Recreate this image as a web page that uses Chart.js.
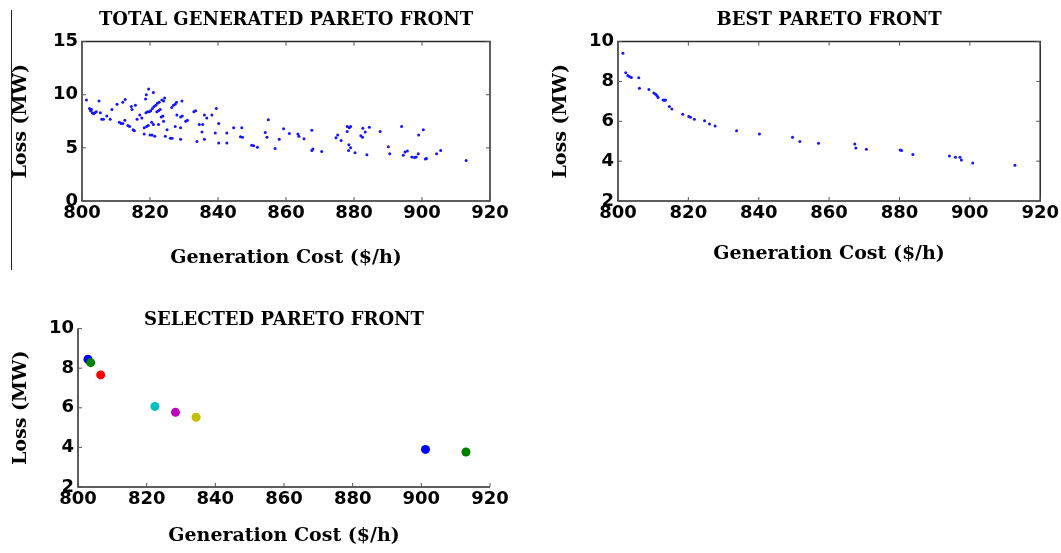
<!DOCTYPE html>
<html lang="en">
<head>
    <meta charset="UTF-8">
    <title>Pareto fronts</title>
    <script src="https://cdn.jsdelivr.net/npm/chart.js"></script>
    <style>
        body { margin: 0; background: #fff; width: 1061px; height: 553px; position: relative; overflow: hidden; }
        canvas { position: absolute; }
        #c1 { left: 0; top: 0; }
        #c2 { left: 540px; top: 0; }
        #c3 { left: 0; top: 297px; }
        #sideline { position: absolute; left: 11px; top: 10px; width: 1px; height: 260px; background: #222; }
    </style>
</head>
<body>
    <div id="sideline"></div>
    <canvas id="c1" width="540" height="280"></canvas>
    <canvas id="c2" width="521" height="280"></canvas>
    <canvas id="c3" width="540" height="256"></canvas>
<script>
    // total generated front
    var totalCost = [801.3, 802.2, 802.5, 802.8, 803.0, 803.4, 803.8, 804.2, 805.0, 805.4, 805.8, 806.3, 807.3, 808.3, 808.8,
        810.3, 811.0, 811.5, 812.0, 812.0, 812.6, 812.7, 813.5, 814.0, 814.5, 814.7, 815.0, 815.4, 815.7, 816.2, 817.0,
        817.6, 818.3, 818.3, 818.7, 818.9, 819.6, 818.8, 819.3, 819.8, 820.2, 820.7, 821.2, 821.7, 822.2, 822.7, 821.0,
        819.0, 819.5, 820.0, 820.6, 821.4, 820.5, 821.0, 822.0, 822.5, 823.0, 823.5, 824.0, 824.3, 823.3, 823.8, 822.5,
        824.0, 824.5, 825.0, 826.4, 826.9, 827.4, 827.8, 826.0, 826.5, 827.4, 827.9, 829.4, 829.0, 829.5, 829.0, 829.0,
        830.5, 831.0, 832.9, 833.4, 833.8, 834.5, 835.5, 835.3, 836.0, 836.0, 836.7, 838.2, 839.5, 839.2, 840.2, 840.2,
        842.6, 842.6, 844.6, 846.6, 847.2, 847.0, 849.9, 850.5, 851.6, 853.9, 854.4, 854.8, 856.8, 858.0, 859.3, 861.0,
        863.5, 863.8, 865.3, 867.6, 867.6, 867.9, 870.5, 874.7, 875.2, 876.2, 878.0, 878.6, 879.0, 878.0, 878.5, 879.0,
        878.4, 880.3, 882.0, 882.5, 882.6, 883.3, 883.8, 884.5, 887.7, 890.1, 890.5, 894.0, 894.5, 895.0, 895.7, 897.0,
        897.8, 898.3, 898.9, 899.0, 900.4, 901.0, 901.3, 904.3, 905.5, 913.0];
    var totalLoss = [9.5, 8.7, 8.5, 8.6, 8.3, 8.2, 8.3, 8.4, 9.4, 8.3, 7.7, 7.7, 8.0, 7.7, 8.6,
        9.1, 7.4, 7.3, 7.3, 9.3, 7.6, 9.55, 7.1, 7.0, 8.9, 8.6, 6.7, 6.6, 9.0, 7.7, 8.1,
        7.8, 6.9, 6.3, 9.6, 10.0, 10.55, 8.3, 8.4, 8.4, 8.5, 8.7, 8.9, 9.0, 9.2, 9.3, 10.2,
        7.0, 7.1, 6.2, 6.2, 6.1, 7.4, 7.2, 8.4, 8.5, 8.6, 9.5, 9.4, 9.7, 7.9, 8.0, 7.2,
        7.5, 6.1, 6.7, 8.8, 9.0, 9.1, 9.3, 5.9, 5.9, 7.0, 8.1, 9.4, 7.9, 8.0, 6.9, 5.8,
        7.5, 7.6, 8.4, 8.5, 5.6, 7.2, 7.2, 6.5, 8.1, 5.8, 7.8, 8.1, 8.7, 6.4, 5.45, 7.3,
        6.4, 5.45, 6.9, 6.05, 6.0, 6.9, 5.25, 5.2, 5.05, 6.45, 6.0, 7.65, 4.95, 5.8, 6.8, 6.35,
        6.3, 6.1, 5.85, 6.65, 4.75, 4.9, 4.65, 5.95, 6.2, 5.7, 7.0, 6.9, 7.0, 6.55, 5.3, 5.0,
        4.75, 4.55, 6.15, 6.0, 6.85, 6.5, 4.35, 6.95, 6.55, 5.1, 4.45, 7.0, 4.3, 4.6, 4.7, 4.15,
        4.1, 4.15, 4.45, 6.2, 6.7, 3.95, 4.0, 4.45, 4.75, 3.8];

    // best front
    var bestCost = [801.4, 802.2, 802.8, 803.3, 803.8, 805.9, 806.1, 808.8, 810.2, 810.7, 811.1, 811.4, 812.8, 813.2,
        813.5, 814.6, 815.3, 818.4, 820.1, 820.6, 821.7, 824.6, 826.0, 827.6, 833.7, 840.2, 849.6, 851.7, 857.0,
        867.3, 867.6, 870.6, 880.2, 880.6, 883.8, 894.2, 895.9, 897.2, 897.6, 900.8, 912.8];
    var bestLoss = [9.41, 8.44, 8.3, 8.24, 8.2, 8.19, 7.66, 7.6, 7.42, 7.36, 7.28, 7.2, 7.07, 7.06,
        7.07, 6.74, 6.62, 6.35, 6.24, 6.2, 6.1, 6.03, 5.87, 5.77, 5.53, 5.36, 5.2, 4.98, 4.9,
        4.86, 4.66, 4.6, 4.56, 4.53, 4.34, 4.26, 4.2, 4.2, 4.06, 3.91, 3.79];

    // selected solutions
    var selCost = [802.9, 803.7, 806.6, 822.4, 828.4, 834.4, 901.2, 913.0];
    var selLoss = [8.45, 8.28, 7.66, 6.07, 5.77, 5.52, 3.9, 3.77];
    var selColors = ['#0000ff', '#008000', '#ff0000', '#00bfbf', '#bf00bf', '#bfbf00', '#0000ff', '#008000'];

    var xTicks = [800, 820, 840, 860, 880, 900, 920];

    var framePlugin = {
        id: 'frame',
        afterDraw: function (chart, args, opts) {
            var ctx = chart.ctx, a = chart.chartArea;
            var x = chart.scales.x, y = chart.scales.y;
            ctx.save();
            ctx.strokeStyle = '#2a2a2a';
            ctx.lineWidth = 1.5;
            ctx.beginPath();
            ctx.moveTo(a.left, a.top);
            ctx.lineTo(a.left, a.bottom);
            ctx.lineTo(a.right, a.bottom);
            if (opts.box) {
                ctx.lineTo(a.right, a.top);
                ctx.closePath();
            }
            ctx.stroke();
            ctx.lineWidth = 1;
            ctx.strokeStyle = '#555';
            ctx.beginPath();
            x.ticks.forEach(function (t) {
                var px = x.getPixelForValue(t.value);
                ctx.moveTo(px, a.bottom); ctx.lineTo(px, a.bottom - 4);
                if (opts.box) { ctx.moveTo(px, a.top); ctx.lineTo(px, a.top + 4); }
            });
            y.ticks.forEach(function (t) {
                var py = y.getPixelForValue(t.value);
                ctx.moveTo(a.left, py); ctx.lineTo(a.left + 4, py);
                if (opts.box) { ctx.moveTo(a.right, py); ctx.lineTo(a.right - 4, py); }
            });
            ctx.stroke();
            ctx.restore();
        }
    };

    function makeChart(id, cfg) {
        var ctx = document.getElementById(id).getContext('2d');
        return new Chart(ctx, {
            type: 'scatter',
            data: {
                datasets: [{
                    data: cfg.xs.map(function (x, i) { return { x: x, y: cfg.ys[i] }; }),
                    backgroundColor: cfg.colors,
                    borderColor: cfg.colors,
                    borderWidth: 0,
                    pointRadius: cfg.radius,
                    pointHoverRadius: cfg.radius
                }]
            },
            options: {
                responsive: false,
                animation: false,
                devicePixelRatio: 1,
                layout: { padding: cfg.padding },
                scales: {
                    x: {
                        type: 'linear',
                        min: 800,
                        max: 920,
                        afterBuildTicks: function (scale) { scale.ticks = xTicks.map(function (v) { return { value: v }; }); },
                        afterFit: function (scale) { scale.height = cfg.xHeight; },
                        grid: { display: false, drawTicks: false },
                        border: { display: false },
                        ticks: { color: '#000', padding: 2, font: { family: 'DejaVu Sans', weight: 'bold', size: 18 } },
                        title: {
                            display: true,
                            text: 'Generation Cost ($/h)',
                            color: '#000',
                            font: { family: 'DejaVu Serif', weight: 'bold', size: 19 }
                        }
                    },
                    y: {
                        type: 'linear',
                        min: cfg.yMin,
                        max: cfg.yMax,
                        afterBuildTicks: function (scale) { scale.ticks = cfg.yTicks.map(function (v) { return { value: v }; }); },
                        afterFit: function (scale) { scale.width = cfg.yWidth; },
                        grid: { display: false, drawTicks: false },
                        border: { display: false },
                        ticks: { color: '#000', padding: 4, font: { family: 'DejaVu Sans', weight: 'bold', size: 18 } },
                        title: {
                            display: true,
                            text: 'Loss (MW)',
                            color: '#000',
                            font: { family: 'DejaVu Serif', weight: 'bold', size: 19 }
                        }
                    }
                },
                plugins: {
                    legend: { display: false },
                    tooltip: { enabled: false },
                    title: {
                        display: true,
                        text: cfg.title,
                        color: '#000',
                        fullSize: false,
                        padding: cfg.titlePadding,
                        font: { family: 'DejaVu Serif', weight: 'bold', size: 18, lineHeight: 1.2 }
                    },
                    frame: { box: cfg.box }
                }
            },
            plugins: [framePlugin]
        });
    }

    document.addEventListener('DOMContentLoaded', function () {
        makeChart('c1', {
            xs: totalCost, ys: totalLoss, colors: '#1414ff', radius: 1.5,
            yMin: 0, yMax: 15, yTicks: [0, 5, 10, 15],
            title: 'TOTAL GENERATED PARETO FRONT', titlePadding: { top: 10, bottom: 10 },
            padding: { left: 6, right: 50, top: 0, bottom: 7 }, yWidth: 76, xHeight: 72, box: true
        });
        makeChart('c2', {
            xs: bestCost, ys: bestLoss, colors: '#1414ff', radius: 1.5,
            yMin: 2, yMax: 10, yTicks: [2, 4, 6, 8, 10],
            title: 'BEST PARETO FRONT', titlePadding: { top: 10, bottom: 10 },
            padding: { left: 6, right: 19, top: 0, bottom: 11 }, yWidth: 72, xHeight: 68, box: true
        });
        makeChart('c3', {
            xs: selCost, ys: selLoss, colors: selColors, radius: 4.5,
            yMin: 2, yMax: 10, yTicks: [2, 4, 6, 8, 10],
            title: 'SELECTED PARETO FRONT', titlePadding: { top: 13, bottom: -3 },
            padding: { left: 6, right: 50, top: 0, bottom: 2 }, yWidth: 72, xHeight: 64, box: false
        });
    });
</script>
</body>
</html>
